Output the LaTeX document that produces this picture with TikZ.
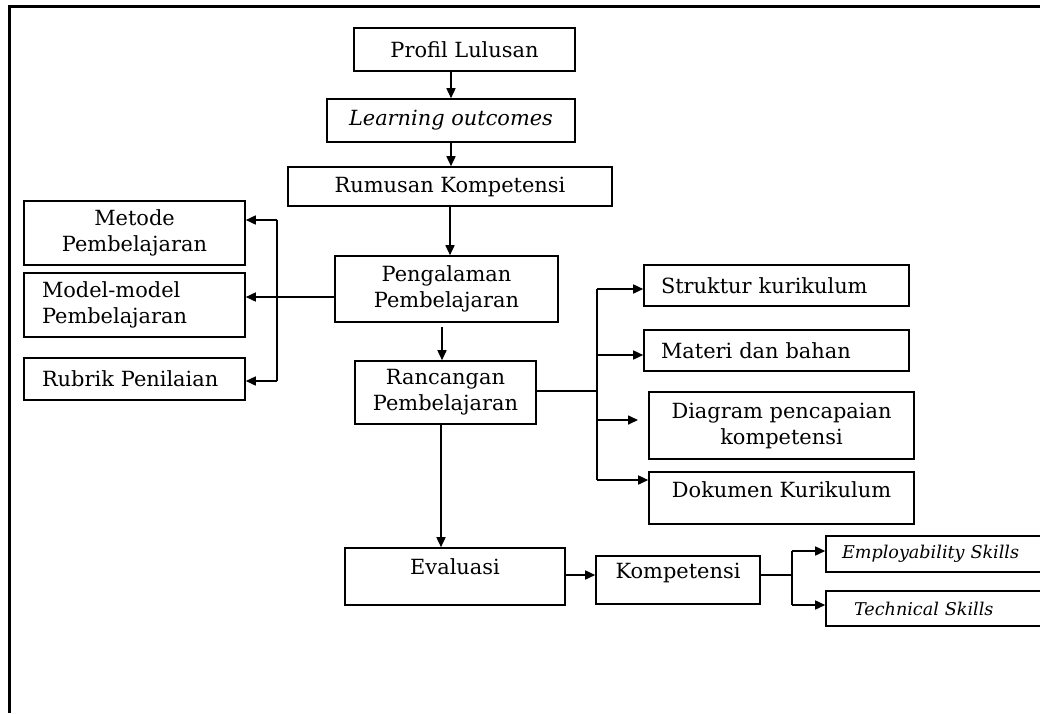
\documentclass[tikz,border=0pt]{standalone}
\usepackage{fontspec}
\setmainfont{DejaVu Serif}
\usetikzlibrary{arrows.meta,calc}
\begin{document}
\begin{tikzpicture}[x=1pt,y=-1pt,
  box/.style={draw=black,line width=1.6pt,rectangle,inner sep=0pt,font=\fontsize{20.9}{26}\selectfont},
  sbox/.style={box,font=\fontsize{17.6}{21}\selectfont\itshape},
  arr/.style={line width=1.6pt,-{Triangle[length=10pt,width=9pt]}},
  ln/.style={line width=1.6pt},
  frame/.style={line width=3.5pt}]
\useasboundingbox (0,0) rectangle (1040,713);
\begin{scope}
\clip (0,0) rectangle (1040,713);
\draw[frame] (9.3,713) -- (9.3,6.5) -- (1040,6.5);

% central column
\node[box,minimum width=221pt,minimum height=43pt] (prof) at (464.5,49.5) {Profil Lulusan};
\node[box,minimum width=248pt,minimum height=43pt] (lo) at (451,120.5) {\itshape Learning outcomes};
\node[box,minimum width=324pt,minimum height=39pt] (rum) at (450,186.5) {Rumusan Kompetensi};
\node[box,minimum width=223pt,minimum height=66pt,align=center] (pen) at (446.5,289) {Pengalaman\\Pembelajaran};
\node[box,minimum width=181pt,minimum height=63pt,align=center] (ran) at (445.5,392.5) {Rancangan\\Pembelajaran};
\node[box,minimum width=220pt,minimum height=57pt,text depth=20pt] (eva) at (455,576.5) {Evaluasi};
\node[box,minimum width=164pt,minimum height=48pt,text depth=18pt] (kom) at (678,580) {Kompetensi};

% left column
\node[box,minimum width=221pt,minimum height=64pt,align=center] (met) at (134.5,233) {Metode\\Pembelajaran};
\node[box,minimum width=221pt,minimum height=64pt,text width=185pt,align=left] (mod) at (134.5,305) {Model-model\\Pembelajaran};
\node[box,minimum width=221pt,minimum height=42pt,text width=185pt,align=left] (rub) at (134.5,379) {Rubrik Penilaian};

% right column
\node[box,minimum width=265pt,minimum height=41pt,text width=231pt,align=left] (str) at (776.5,285.5) {Struktur kurikulum};
\node[box,minimum width=265pt,minimum height=41pt,text width=231pt,align=left] (mat) at (776.5,350.5) {Materi dan bahan};
\node[box,minimum width=265pt,minimum height=67pt,align=center] (dia) at (781.5,425.5) {Diagram pencapaian\\kompetensi};
\node[box,minimum width=265pt,minimum height=52pt,text depth=16pt] (dok) at (781.5,498) {Dokumen Kurikulum};

% skills
\node[sbox,minimum width=230pt,minimum height=36pt,text width=198pt,align=left] (emp) at (941,554) {Employability Skills};
\node[sbox,minimum width=230pt,minimum height=35pt,text width=174pt,align=left] (tec) at (941,608.5) {Technical Skills};

% coordinates
\coordinate (pl) at (277,297);
\coordinate (lt) at (277,220);
\coordinate (lb) at (277,381);
\coordinate (pr) at (442,327);
\coordinate (rb) at (441,424);
\coordinate (tr) at (597,391);
\coordinate (t1) at (597,289);
\coordinate (t2) at (597,355);
\coordinate (t3) at (597,420);
\coordinate (t4) at (597,480);
\coordinate (d3) at (638,420);
\coordinate (ek) at (580,575);
\coordinate (kb) at (792,575);
\coordinate (k1) at (792,551);
\coordinate (k2) at (792,605);

% connectors
\draw[arr] (lo.north |- prof.south) -- (lo.north);
\draw[arr] (lo.south) -- (lo.south |- rum.north);
\draw[arr] (rum.south) -- (rum.south |- pen.north);
\draw[arr] (pen.west |- pl) -- (mod.east |- pl);
\draw[ln] (lt) -- (lb);
\draw[arr] (lt) -- (met.east |- lt);
\draw[arr] (lb) -- (rub.east |- lb);
\draw[arr] (pr) -- (pr |- ran.north);
\draw[ln] (ran.east |- tr) -- (tr);
\draw[ln] (t1) -- (t4);
\draw[arr] (t1) -- (str.west |- t1);
\draw[arr] (t2) -- (mat.west |- t2);
\draw[arr] (t3) -- (d3);
\draw[arr] (t4) -- (dok.west |- t4);
\draw[arr] (rb |- ran.south) -- (rb |- eva.north);
\draw[arr] (eva.east |- ek) -- (kom.west |- ek);
\draw[ln] (kom.east |- kb) -- (kb);
\draw[ln] (k1) -- (k2);
\draw[arr] (k1) -- (emp.west |- k1);
\draw[arr] (k2) -- (tec.west |- k2);
\end{scope}
\end{tikzpicture}
\end{document}
